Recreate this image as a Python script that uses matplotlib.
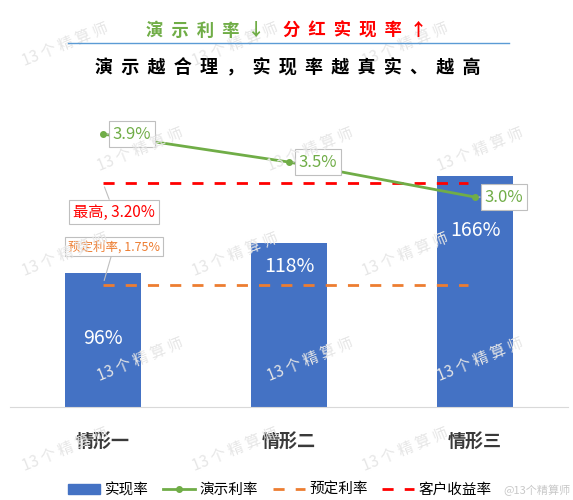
import numpy as np
import matplotlib
matplotlib.use("Agg")
import matplotlib.pyplot as plt
from matplotlib.lines import Line2D
from matplotlib.patches import Patch

plt.rcParams['font.family'] = ['Noto Sans CJK SC', 'DejaVu Sans']

# === DATA ===================================================================
categories   = ["情形一", "情形二", "情形三"]
realize_rate = [96, 118, 166]       # 实现率 (%)
demo_rate    = [3.9, 3.5, 3.0]      # 演示利率 (%)
preset_rate  = 1.75                 # 预定利率 (%)
client_max   = 3.20                 # 客户收益率 最高 (%)
legend_names = ["实现率", "演示利率", "预定利率", "客户收益率"]
# ============================================================================

BLUE, GREEN, ORANGE, RED = "#4472C4", "#70AD47", "#ED7D31", "#FF0000"
bar_label_drop = [-65, -24, -55]    # px below bar top for value labels

fig = plt.figure(figsize=(5.73, 5.0), dpi=100)

# ---------- faint watermark -------------------------------------------------
for r, yy in enumerate([45, 150, 255, 360, 450]):
    for xx in [65, 235, 405]:
        fig.text((xx + (r % 2) * 75) / 573, 1 - yy / 500, "13 个 精 算 师", rotation=22,
                 color="#e6e6e6", fontsize=11, ha="center", va="center", zorder=0)

ax = fig.add_axes([10/573, 93/500, 558/573, 317/500])
ax.set_facecolor("none")
x = np.arange(len(categories))
ax.bar(x, realize_rate, width=0.41, color=BLUE, zorder=2)
ax.set_xlim(-0.5, 2.5)
ax.set_ylim(0, 227.8)
for s in ["top", "left", "right"]:
    ax.spines[s].set_visible(False)
ax.spines["bottom"].set_color("#d9d9d9")
ax.set_yticks([])
ax.set_xticks(x)
ax.set_xticklabels(categories, fontsize=13, fontweight="bold", color="#3a3a3a")
ax.tick_params(axis="x", length=0, pad=18)

for i, v in enumerate(realize_rate):
    ax.annotate(f"{v}%", xy=(i, v), xytext=(0, bar_label_drop[i]), textcoords="offset pixels",
                ha="center", va="center", color="white", fontsize=14, zorder=5)

ax2 = ax.twinx()
ax2.set_ylim(0, 4.53)
ax2.set_yticks([])
for s in ax2.spines.values():
    s.set_visible(False)

ax2.hlines(client_max, x[0], x[-1] - 0.04, colors=RED, linestyles=(0, (4, 4)), lw=2)
ax2.hlines(preset_rate, x[0], x[-1] - 0.04, colors=ORANGE, linestyles=(0, (4, 4)), lw=2)
ax2.plot(x, demo_rate, color=GREEN, lw=2, marker="o", ms=4)

box = dict(boxstyle="square,pad=0.25", fc="white", ec="#bfbfbf", lw=0.8)
arrow = dict(arrowstyle="-", color="#bfbfbf", lw=0.8, shrinkA=0, shrinkB=3)
for i, d in enumerate(demo_rate):
    ax2.annotate(f"{d}%", xy=(i, d), xytext=(29, 0), textcoords="offset pixels",
                 ha="center", va="center", color=GREEN, fontsize=12, bbox=box,
                 arrowprops=arrow, zorder=6)

ax2.annotate(f"最高, {client_max:.2f}%", xy=(0, client_max), xytext=(11, -29),
             textcoords="offset pixels", ha="center", va="center", color=RED,
             fontsize=11, bbox=box, arrowprops=arrow)
ax2.annotate(f"预定利率, {preset_rate:.2f}%", xy=(0, preset_rate), xytext=(11, 38),
             textcoords="offset pixels", ha="center", va="center", color=ORANGE,
             fontsize=9, bbox=box, arrowprops=arrow)

# ---------- titles ----------------------------------------------------------
fig.text(205/573, 1 - 31/500, "演  示  利  率  ↓", color=GREEN, fontsize=12.5,
         fontweight="bold", ha="center", va="center")
fig.text(355/573, 1 - 31/500, "分  红  实  现  率  ↑", color=RED, fontsize=12.5,
         fontweight="bold", ha="center", va="center")
fig.add_artist(Line2D([68/573, 509/573], [1 - 43/500, 1 - 43/500], color="#5B9BD5", lw=1))
fig.text(288/573, 1 - 68/500, "演  示  越  合  理  ，  实  现  率  越  真  实  、  越  高",
         color="black", fontsize=13, fontweight="bold", ha="center", va="center")

# ---------- legend ----------------------------------------------------------
handles = [Patch(color=BLUE),
           Line2D([], [], color=GREEN, lw=2, marker="o", ms=4),
           Line2D([], [], color=ORANGE, lw=2, ls=(0, (4, 4))),
           Line2D([], [], color=RED, lw=2, ls=(0, (4, 4)))]
fig.legend(handles, legend_names, loc="center", bbox_to_anchor=(280/573, 10/500), ncol=4,
           frameon=False, fontsize=10.5, handlelength=2.2, columnspacing=1.0, handletextpad=0.3)

fig.text(571/573, 10/500, "@13个精算师", color="#c8c8c8", fontsize=8, ha="right", va="center")

fig.savefig("out.png", dpi=100)
